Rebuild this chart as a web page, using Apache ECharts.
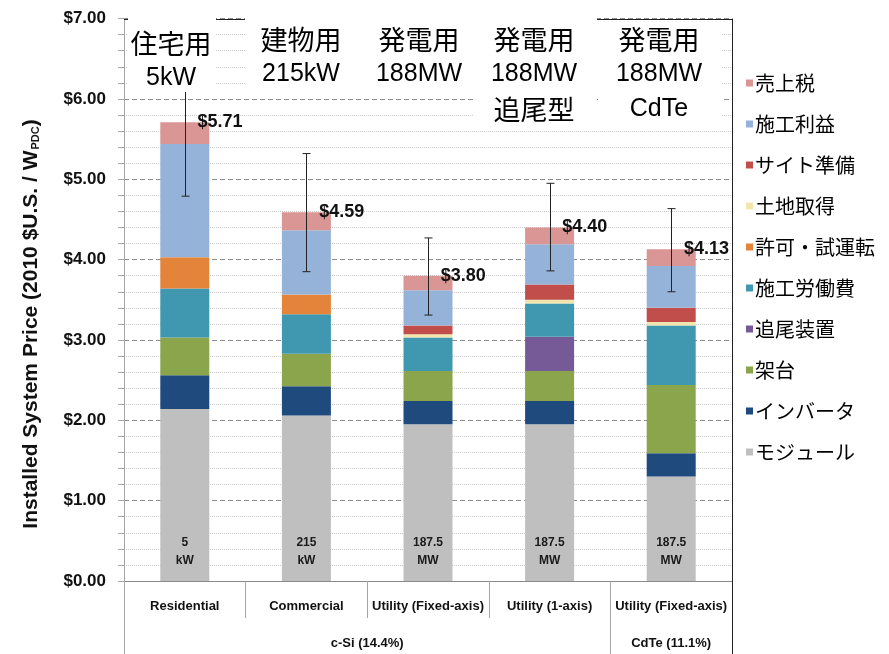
<!DOCTYPE html>
<html>
<head>
<meta charset="utf-8">
<script src="https://cdn.jsdelivr.net/npm/echarts@6/dist/echarts.min.js"></script>
<style>
  html, body { margin: 0; padding: 0; background: #fff; }
  #main { width: 889px; height: 654px; }
</style>
</head>
<body>
<div id="main"></div>
<script>
// categories along the x axis
const categories = ['Residential', 'Commercial', 'Utility (Fixed-axis)', 'Utility (1-axis)', 'Utility (Fixed-axis)'];
const sizeLabels = ['5\nkW', '215\nkW', '187.5\nMW', '187.5\nMW', '187.5\nMW'];
const groupNames = ['c-Si (14.4%)', 'CdTe (11.1%)'];
const groupSpans = [[0, 3], [4, 4]];
const headerTexts = ['住宅用\n5kW', '建物用\n215kW', '発電用\n188MW', '発電用\n188MW\n追尾型', '発電用\n188MW\nCdTe'];

// cost components, $/W (bottom -> top of the stack)
const module = [2.14, 2.06, 1.95, 1.95, 1.30];
const inverter = [0.42, 0.365, 0.29, 0.29, 0.29];
const racking = [0.47, 0.405, 0.375, 0.375, 0.85];
const tracker = [0, 0, 0, 0.425, 0];
const labor = [0.61, 0.49, 0.415, 0.415, 0.74];
const permit = [0.39, 0.245, 0, 0, 0];
const land = [0, 0, 0.04, 0.045, 0.045];
const sitePrep = [0, 0, 0.11, 0.19, 0.175];
const margin = [1.41, 0.80, 0.44, 0.50, 0.52];
const salesTax = [0.27, 0.225, 0.18, 0.21, 0.21];

const totals = [5.71, 4.59, 3.80, 4.40, 4.13];
const errLow = [4.79, 3.85, 3.31, 3.86, 3.60];
const errHigh = [6.35, 5.32, 4.27, 4.95, 4.635];

const yTicks = [0, 1, 2, 3, 4, 5, 6, 7];

const latin = "'Liberation Sans', Arial, 'Noto Sans CJK JP', sans-serif";
const jp = "'Noto Sans CJK JP', sans-serif";

const stack = [
  { name: 'モジュール', data: module, color: '#bfbfbf' },
  { name: 'インバータ', data: inverter, color: '#1f4a7e' },
  { name: '架台', data: racking, color: '#8aa54b' },
  { name: '追尾装置', data: tracker, color: '#765a98' },
  { name: '施工労働費', data: labor, color: '#3f98b0' },
  { name: '許可・試運転', data: permit, color: '#e3843a' },
  { name: '土地取得', data: land, color: '#f0e6ae' },
  { name: 'サイト準備', data: sitePrep, color: '#c24e4b' },
  { name: '施工利益', data: margin, color: '#95b3d8' },
  { name: '売上税', data: salesTax, color: '#da9694' }
];

const chart = echarts.init(document.getElementById('main'));

const series = stack.map((s, idx) => {
  const item = {
    name: s.name,
    type: 'bar',
    stack: 'cost',
    barWidth: 49,
    data: s.data,
    itemStyle: { color: s.color },
    emphasis: { disabled: true }
  };
  if (idx === 0) {
    item.label = {
      show: true,
      position: 'insideBottom',
      distance: 11,
      formatter: p => sizeLabels[p.dataIndex],
      fontFamily: latin,
      fontWeight: 'bold',
      fontSize: 12,
      lineHeight: 18,
      color: '#1a1a1a'
    };
  }
  if (idx === stack.length - 1) {
    item.label = {
      show: true,
      position: ['76%', 0],
      align: 'left',
      verticalAlign: 'middle',
      formatter: p => '$' + totals[p.dataIndex].toFixed(2),
      fontFamily: latin,
      fontWeight: 'bold',
      fontSize: 18,
      color: '#111'
    };
  }
  return item;
});

series.push({
  name: 'range',
  type: 'custom',
  silent: true,
  z: 5,
  data: errLow.map((lo, i) => [i, lo, errHigh[i]]),
  renderItem: (params, api) => {
    const p1 = api.coord([api.value(0), api.value(1)]);
    const p2 = api.coord([api.value(0), api.value(2)]);
    const x = Math.round(p1[0]) + 0.5;
    const st = { stroke: '#222', lineWidth: 1 };
    return {
      type: 'group',
      children: [
        { type: 'line', shape: { x1: x, y1: p2[1], x2: x, y2: p1[1] }, style: st },
        { type: 'line', shape: { x1: x - 4, y1: p2[1], x2: x + 4, y2: p2[1] }, style: st },
        { type: 'line', shape: { x1: x - 4, y1: p1[1], x2: x + 4, y2: p1[1] }, style: st }
      ]
    };
  }
});

const option = {
  backgroundColor: '#fff',
  animation: false,
  grid: { left: 124, right: 157, top: 18.6, bottom: 73, containLabel: false },
  legend: {
    orient: 'vertical',
    left: 741,
    top: 68,
    icon: 'rect',
    itemWidth: 7,
    itemHeight: 7,
    itemGap: 21,
    data: stack.map(s => s.name).reverse(),
    textStyle: { fontSize: 20, color: '#000', fontFamily: jp, padding: [0, 0, 0, -3] }
  },
  xAxis: {
    type: 'category',
    data: categories,
    axisLine: { lineStyle: { color: '#8a8a8a' } },
    axisTick: { show: true, length: 37, lineStyle: { color: '#a6a6a6' } },
    axisLabel: { interval: 0, margin: 19, fontFamily: latin, fontWeight: 'bold', fontSize: 13, color: '#111' }
  },
  yAxis: {
    type: 'value',
    min: yTicks[0],
    max: yTicks[yTicks.length - 1],
    interval: 1,
    axisLine: { show: true, lineStyle: { color: '#a6a6a6' } },
    axisTick: { show: true, length: 6, lineStyle: { color: '#a6a6a6' } },
    minorTick: { show: true, splitNumber: 5, length: 6, lineStyle: { color: '#a6a6a6' } },
    splitLine: { show: true, lineStyle: { type: [5, 3], color: '#8c8c8c' } },
    minorSplitLine: { show: true, lineStyle: { type: [1, 1], color: '#c8c8c8' } },
    axisLabel: {
      margin: 18,
      formatter: v => '$' + v.toFixed(2),
      fontFamily: latin,
      fontWeight: 'bold',
      fontSize: 17,
      color: '#111'
    }
  },
  series: series
};

chart.setOption(option);

// extra decoration placed from the axis scale
function decorate() {
  const px = i => chart.convertToPixel({ xAxisIndex: 0 }, i);
  const band = px(1) - px(0);
  const edge = i => px(i) - band / 2;
  const y0 = chart.convertToPixel({ yAxisIndex: 0 }, 0);
  const yTop = chart.convertToPixel({ yAxisIndex: 0 }, yTicks[yTicks.length - 1]);
  const g = [];

  // axis line running down past the category labels
  g.push({ type: 'line', z: 50, shape: { x1: Math.round(edge(0)) + 0.5, y1: y0, x2: Math.round(edge(0)) + 0.5, y2: 654 }, style: { stroke: '#a6a6a6', lineWidth: 1 } });
  // group separator lines + group names
  groupSpans.forEach((span, k) => {
    const xr = Math.round(edge(span[1] + 1)) + 0.5;
    const last = k === groupSpans.length - 1;
    g.push({ type: 'line', z: 50, shape: { x1: xr, y1: y0, x2: xr, y2: 654 }, style: { stroke: last ? '#222' : '#a6a6a6', lineWidth: 1 } });
    const cx = (edge(span[0]) + edge(span[1] + 1)) / 2;
    g.push({ type: 'text', z: 50, x: cx, y: 643, style: { text: groupNames[k], align: 'center', verticalAlign: 'middle', font: 'bold 13px ' + latin, fill: '#111' } });
  });
  // plot frame top and right
  const xRight = Math.round(edge(categories.length)) + 0.5;
  g.push({ type: 'line', z: 50, shape: { x1: edge(0), y1: Math.round(yTop) + 0.5, x2: xRight, y2: Math.round(yTop) + 0.5 }, style: { stroke: '#222', lineWidth: 1 } });
  g.push({ type: 'line', z: 50, shape: { x1: xRight, y1: yTop, x2: xRight, y2: y0 }, style: { stroke: '#222', lineWidth: 1 } });

  // white header boxes with Japanese captions
  g.push({ type: 'rect', z: 100, shape: { x: 128, y: 17, width: 88, height: 75 }, style: { fill: '#fff' } });
  g.push({ type: 'rect', z: 100, shape: { x: 245, y: 17, width: 228, height: 76 }, style: { fill: '#fff' } });
  g.push({ type: 'rect', z: 100, shape: { x: 473, y: 17, width: 124, height: 105 }, style: { fill: '#fff' } });
  g.push({ type: 'rect', z: 100, shape: { x: 598, y: 20, width: 124, height: 102 }, style: { fill: '#fff' } });
  const headerX = [171, 301, 419, 534, 659];
  const headerY = [26, 22, 22, 22, 22];
  headerTexts.forEach((t, i) => {
    const rt = t.split('\n').map(line => (/[^\x00-\x7f]/.test(line) ? '{j|' : '{l|') + line + '}').join('\n');
    g.push({
      type: 'text', z: 110, x: headerX[i], y: headerY[i],
      style: {
        text: rt, align: 'center', verticalAlign: 'top', fill: '#000',
        rich: {
          j: { font: '27px ' + jp, lineHeight: 35, fill: '#000' },
          l: { font: '25px ' + latin, lineHeight: 35, fill: '#000' }
        }
      }
    });
  });

  // y axis title
  g.push({
    type: 'text', z: 50, x: 31, y: 324, rotation: Math.PI / 2,
    style: {
      text: 'Installed System Price (2010 $U.S. / W{sub|PDC})',
      align: 'center', verticalAlign: 'middle',
      font: 'bold 21px ' + latin, fill: '#111',
      rich: { sub: { font: 'bold 11px ' + latin, fill: '#111', padding: [10, 0, 0, 1] } }
    }
  });

  chart.setOption({ graphic: g });
}
decorate();
</script>
</body>
</html>
